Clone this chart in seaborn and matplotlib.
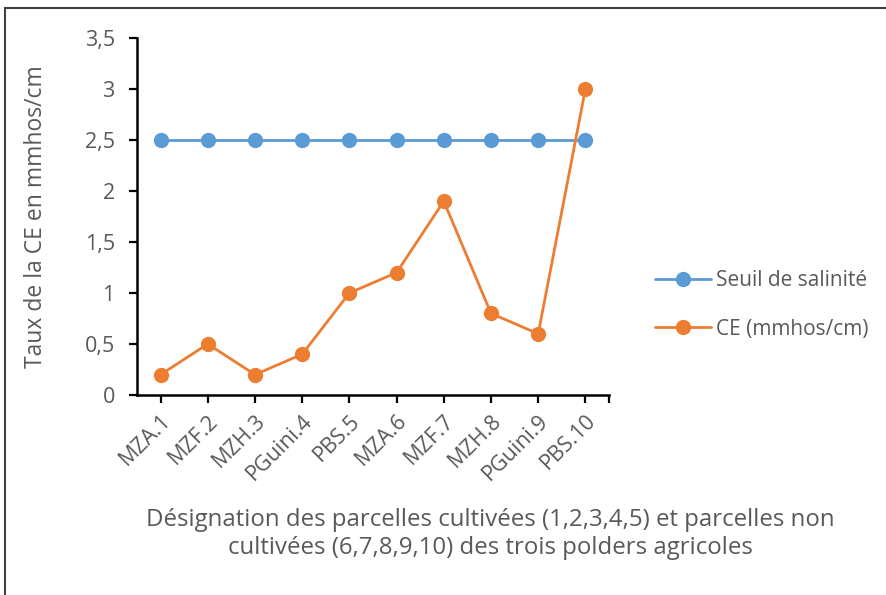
import matplotlib
matplotlib.use("Agg")
import matplotlib.pyplot as plt
import seaborn as sns
import pandas as pd
from matplotlib.patches import Rectangle

parcelles = ["MZA.1", "MZF.2", "MZH.3", "PGuini.4", "PBS.5",
             "MZA.6", "MZF.7", "MZH.8", "PGuini.9", "PBS.10"]
seuil = [2.5, 2.5, 2.5, 2.5, 2.5, 2.5, 2.5, 2.5, 2.5, 2.5]
ce = [0.2, 0.5, 0.2, 0.4, 1.0, 1.2, 1.9, 0.8, 0.6, 3.0]
y_ticks = [0, 0.5, 1, 1.5, 2, 2.5, 3, 3.5]
y_tick_labels = ["0", "0,5", "1", "1,5", "2", "2,5", "3", "3,5"]

sns.set_theme(style="white")
plt.rcParams["font.family"] = ["Open Sans", "DejaVu Sans"]

grey = "#595959"
blue = "#5B9BD5"
orange = "#ED7D31"

df = pd.DataFrame({
    "pos": list(range(len(parcelles))) * 2,
    "valeur": seuil + ce,
    "serie": ["Seuil de salinité"] * len(parcelles) + ["CE (mmhos/cm)"] * len(parcelles),
})

fig = plt.figure(figsize=(8.86, 5.95), dpi=100)
ax = fig.add_axes([137 / 886, 1 - 395 / 595, (609 - 137) / 886, (395 - 38) / 595])

sns.lineplot(data=df, x="pos", y="valeur", hue="serie",
             palette={"Seuil de salinité": blue, "CE (mmhos/cm)": orange},
             marker="o", markersize=11, markeredgewidth=0, linewidth=2,
             ax=ax, legend=True)

ax.set_xlim(-0.5, 9.5)
ax.set_ylim(0, 3.5)
ax.set_xticks(list(range(len(parcelles))) + [9.5])
ax.set_xticklabels(parcelles + [""], rotation=45, ha="right",
                   rotation_mode="anchor", fontsize=15.5, color=grey)
ax.set_yticks(y_ticks)
ax.set_yticklabels(y_tick_labels, fontsize=15.5, color=grey)
ax.tick_params(axis="both", direction="out", length=6, width=1.6,
               color="black", bottom=True, left=True)
ax.tick_params(axis="x", pad=5)
ax.tick_params(axis="y", pad=10)

for side in ["top", "right"]:
    ax.spines[side].set_visible(False)
for side in ["left", "bottom"]:
    ax.spines[side].set_color("black")
    ax.spines[side].set_linewidth(1.8)

ax.set_xlabel("")
ax.set_ylabel("Taux de la CE en mmhos/cm", fontsize=16.5, color=grey)
ax.yaxis.set_label_coords((48 - 137) / (609 - 137), 0.5)

fig.text(490 / 886, 1 - 534 / 595,
         "Désignation des parcelles cultivées (1,2,3,4,5) et parcelles non\n"
         "cultivées (6,7,8,9,10) des trois polders agricoles",
         ha="center", va="center", fontsize=17.3, color=grey, linespacing=1.2)

leg = ax.legend(loc="center left", bbox_to_anchor=(636 / 886, 1 - 305 / 595),
                bbox_transform=fig.transFigure, frameon=False, fontsize=15,
                labelspacing=1.3, handlelength=2.7, handletextpad=0.25)
for txt in leg.get_texts():
    txt.set_color(grey)

fig.patches.append(Rectangle((5 / 886, -0.05), 1.2, (1 - 8 / 595) + 0.05,
                             transform=fig.transFigure, fill=False,
                             edgecolor="#404040", linewidth=1.5))

fig.savefig("out.png", dpi=100)
